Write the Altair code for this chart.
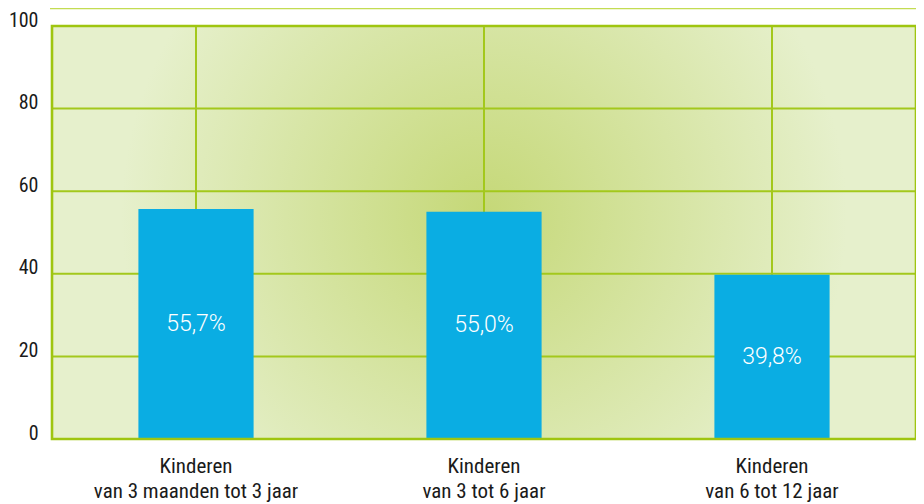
import altair as alt
import pandas as pd

# ---- data ----
categories = [
    "Kinderen|van 3 maanden tot 3 jaar",
    "Kinderen|van 3 tot 6 jaar",
    "Kinderen|van 6 tot 12 jaar",
]
values = [55.7, 55.0, 39.8]
value_labels = ["55,7%", "55,0%", "39,8%"]
y_ticks = [0, 20, 40, 60, 80, 100]

W, H = 864, 413
GREEN = "#9fc510"
GRID = "#a3c81c"
BLUE = "#0aade3"
AXIS_FONT = "Liberation Sans Narrow, Roboto Condensed, Roboto, sans-serif"

df = pd.DataFrame({"cat": categories, "value": values, "label": value_labels})
ticks_df = pd.DataFrame({"v": y_ticks})
one = pd.DataFrame({"k": [0]})

x_scale = alt.Scale(domain=categories, paddingInner=0.6, paddingOuter=0.3)
y_scale = alt.Scale(domain=[0, 100], nice=False, zero=True)

x_axis = alt.Axis(
    title=None,
    labelExpr="split(datum.value, '|')",
    labelAngle=0,
    labelFont=AXIS_FONT,
    labelFontSize=21,
    labelLineHeight=25,
    labelColor="#1a1a1a",
    labelPadding=16,
    labelBaseline="top",
    labelLimit=400,
    ticks=False,
    domain=False,
    grid=False,
    bandPosition=0.5,
)
y_axis = alt.Axis(
    title=None,
    values=y_ticks,
    labelFont=AXIS_FONT,
    labelFontSize=20,
    labelColor="#1a1a1a",
    labelPadding=14,
    labelBaseline="alphabetic",
    ticks=False,
    domain=False,
    grid=False,
)

background = alt.Chart(one).mark_rect(
    fill=alt.RadialGradient(
        gradient="radial",
        stops=[
            alt.GradientStop(offset=0, color="#c5d877"),
            alt.GradientStop(offset=1, color="#e6f0cc"),
        ],
        x1=0.5, y1=0.48, r1=0, x2=0.5, y2=0.48, r2=0.42,
    ),
    strokeWidth=0,
).encode(x=alt.value(0), x2=alt.value(W), y=alt.value(0), y2=alt.value(H))

hgrid = alt.Chart(ticks_df).mark_rule(color=GRID, strokeWidth=2).encode(
    y=alt.Y("v:Q", scale=y_scale, axis=y_axis),
    x=alt.value(0),
    x2=alt.value(W),
)

vgrid = alt.Chart(df).mark_rule(color=GRID, strokeWidth=2).encode(
    x=alt.X("cat:N", scale=x_scale, sort=categories, axis=x_axis),
    y=alt.value(0),
    y2=alt.value(H),
)

bars = alt.Chart(df).mark_bar(color=BLUE).encode(
    x=alt.X("cat:N", scale=x_scale, sort=categories, axis=x_axis),
    y=alt.Y("value:Q", scale=y_scale, axis=y_axis),
)

text = alt.Chart(df).transform_calculate(mid="datum.value / 2").mark_text(
    color="white", font="Roboto", fontWeight=300, fontSize=23, baseline="middle", align="center"
).encode(
    x=alt.X("cat:N", scale=x_scale, sort=categories, axis=x_axis),
    y=alt.Y("mid:Q", scale=y_scale, axis=y_axis),
    text="label:N",
)

frame = alt.Chart(one).mark_rect(fill="transparent", stroke=GREEN, strokeWidth=2.6).encode(
    x=alt.value(0), x2=alt.value(W), y=alt.value(0), y2=alt.value(H)
)

topline = alt.Chart(one).mark_rule(color="#c3dc52", strokeWidth=1.5).encode(
    x=alt.value(-2), x2=alt.value(W + 6), y=alt.value(-17.5)
)

chart = alt.layer(background, hgrid, vgrid, bars, text, frame, topline).properties(
    width=W,
    height=H,
    autosize=alt.AutoSizeParams(type="none"),
    padding={"left": 44, "top": 18, "right": 0, "bottom": 64},
).configure_view(stroke=None)

chart.save("out.html", embed_options={"renderer": "svg", "actions": False})
